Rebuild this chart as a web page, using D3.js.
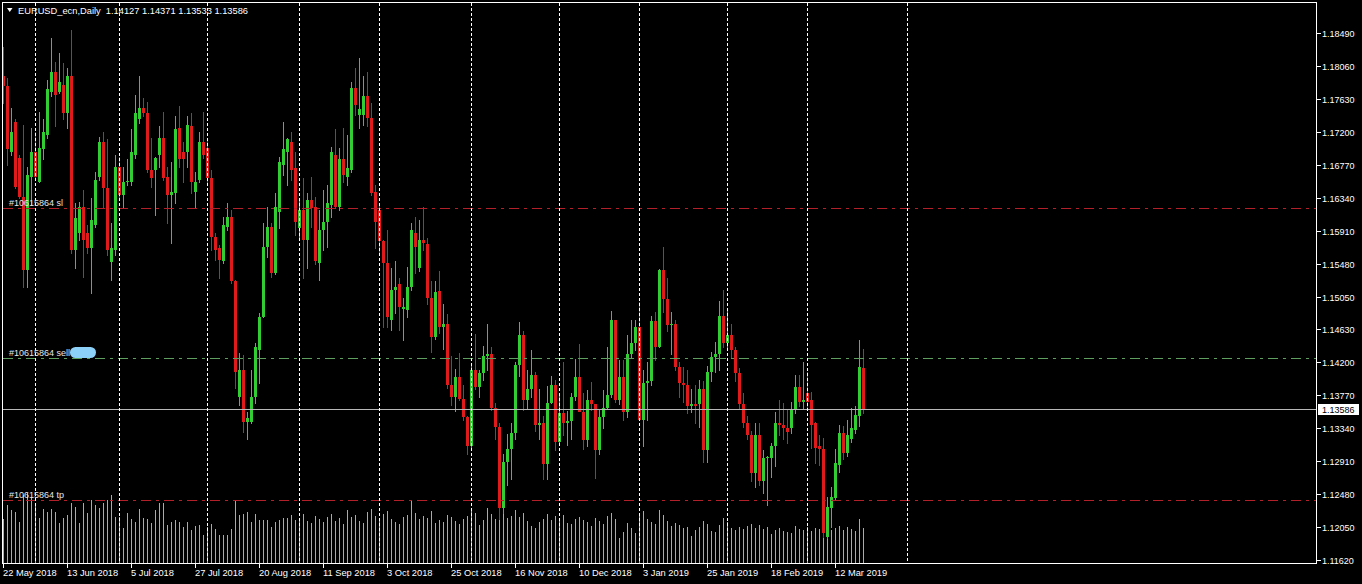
<!DOCTYPE html>
<html><head><meta charset="utf-8">
<script src="https://cdn.jsdelivr.net/npm/d3@7"></script>
<style>
html,body{margin:0;padding:0;background:#000;overflow:hidden;}
svg{display:block;}
text{font-family:"Liberation Sans", Arial, sans-serif;}
</style></head><body>
<svg id="c" width="1362" height="584"></svg>
<script>
// ---------------- DATA ----------------
const symbolTitle = "EURUSD_ecn,Daily";
const startDate = "2018-05-22";
const holidays = ["2018-12-25", "2019-01-01"];
const futureSeparators = ["2019-04-01"];

const open = [
1.1792,1.1779,1.1694,1.1733,1.1686,1.1635,1.1540,1.1661,1.1693,1.1655,
1.1697,1.1716,1.1772,1.1798,1.1772,1.1781,1.1745,1.1792,1.1566,1.1588,
1.1622,1.1588,1.1569,1.1599,1.1661,1.1706,1.1647,1.1550,1.1566,1.1674,
1.1638,1.1654,1.1655,1.1690,1.1736,1.1751,1.1745,1.1670,1.1670,1.1690,
1.1712,1.1661,1.1638,1.1640,1.1725,1.1693,1.1694,1.1727,1.1642,1.1657,
1.1706,1.1699,1.1660,1.1583,1.1569,1.1551,1.1596,1.1609,1.1525,1.1375,
1.1410,1.1342,1.1342,1.1375,1.1436,1.1479,1.1570,1.1596,1.1536,1.1616,
1.1677,1.1693,1.1707,1.1673,1.1595,1.1618,1.1579,1.1631,1.1622,1.1549,
1.1592,1.1603,1.1625,1.1690,1.1622,1.1684,1.1661,1.1670,1.1777,1.1742,
1.1742,1.1766,1.1738,1.1642,1.1618,1.1577,1.1549,1.1475,1.1514,1.1521,
1.1489,1.1488,1.1518,1.1588,1.1543,1.1579,1.1574,1.1503,1.1452,1.1513,
1.1466,1.1470,1.1390,1.1375,1.1401,1.1372,1.1348,1.1310,1.1410,1.1388,
1.1405,1.1428,1.1430,1.1360,1.1335,1.1230,1.1290,1.1306,1.1327,1.1416,
1.1455,1.1370,1.1385,1.1403,1.1338,1.1340,1.1287,1.1367,1.1390,1.1316,
1.1354,1.1340,1.1343,1.1375,1.1400,1.1355,1.1318,1.1370,1.1365,1.1305,
1.1348,1.1360,1.1377,1.1475,1.1370,1.1400,1.1355,1.1430,1.1445,1.1465,
1.1345,1.1393,1.1395,1.1473,1.1440,1.1540,1.1502,1.1468,1.1470,1.1413,
1.1392,1.1390,1.1362,1.1365,1.1365,1.1385,1.1305,1.1407,1.1427,1.1430,
1.1480,1.1445,1.1455,1.1435,1.1405,1.1365,1.1340,1.1325,1.1275,1.1325,
1.1265,1.1295,1.1295,1.1310,1.1340,1.1338,1.1334,1.1334,1.1358,1.1388,
1.1368,1.1380,1.1371,1.1341,1.1310,1.1306,1.1192,1.1230,1.1243,1.1286,
1.1328,1.1302,1.1319,1.1332,1.1349,1.14127];

const high = [
1.1831,1.1790,1.1751,1.1736,1.1690,1.1729,1.1674,1.1725,1.1719,1.1746,
1.1736,1.1788,1.1842,1.1811,1.1823,1.1810,1.1803,1.1853,1.1627,1.1629,
1.1644,1.1599,1.1634,1.1667,1.1713,1.1720,1.1710,1.1601,1.1690,1.1687,
1.1674,1.1684,1.1723,1.1768,1.1792,1.1764,1.1759,1.1712,1.1687,1.1727,
1.1746,1.1674,1.1680,1.1740,1.1753,1.1707,1.1740,1.1745,1.1667,1.1720,
1.1746,1.1710,1.1670,1.1588,1.1573,1.1609,1.1627,1.1618,1.1527,1.1432,
1.1429,1.1355,1.1410,1.1445,1.1484,1.1601,1.1622,1.1601,1.1640,1.1687,
1.1733,1.1712,1.1719,1.1693,1.1631,1.1660,1.1640,1.1661,1.1635,1.1618,
1.1644,1.1651,1.1700,1.1723,1.1699,1.1725,1.1716,1.1785,1.1803,1.1816,
1.1792,1.1798,1.1758,1.1651,1.1627,1.1579,1.1592,1.1543,1.1551,1.1530,
1.1504,1.1544,1.1601,1.1609,1.1605,1.1622,1.1582,1.1525,1.1525,1.1538,
1.1495,1.1482,1.1428,1.1411,1.1432,1.1390,1.1350,1.1417,1.1456,1.1410,
1.1441,1.1470,1.1440,1.1367,1.1340,1.1300,1.1326,1.1340,1.1420,1.1472,
1.1460,1.1410,1.1435,1.1407,1.1385,1.1350,1.1389,1.1402,1.1397,1.1380,
1.1420,1.1356,1.1380,1.1424,1.1443,1.1380,1.1384,1.1394,1.1365,1.1358,
1.1383,1.1440,1.1486,1.1475,1.1423,1.1423,1.1455,1.1475,1.1475,1.1498,
1.1410,1.1420,1.1480,1.1485,1.1541,1.1570,1.1530,1.1485,1.1475,1.1420,
1.1413,1.1410,1.1385,1.1390,1.1396,1.1395,1.1415,1.1433,1.1446,1.1500,
1.1514,1.1488,1.1470,1.1440,1.1412,1.1380,1.1350,1.1330,1.1340,1.1340,
1.1305,1.1298,1.1315,1.1355,1.1370,1.1367,1.1358,1.1368,1.1403,1.1403,
1.1420,1.1407,1.1381,1.1342,1.1325,1.1321,1.1244,1.1257,1.1306,1.1338,
1.1336,1.1345,1.1360,1.1362,1.1448,1.14371];

const low = [
1.1758,1.1677,1.1690,1.1647,1.1634,1.1518,1.1518,1.1625,1.1657,1.1654,
1.1684,1.1712,1.1766,1.1727,1.1771,1.1736,1.1725,1.1562,1.1543,1.1579,
1.1531,1.1562,1.1510,1.1596,1.1657,1.1622,1.1560,1.1527,1.1560,1.1631,
1.1621,1.1650,1.1651,1.1686,1.1732,1.1740,1.1667,1.1648,1.1612,1.1674,
1.1657,1.1601,1.1575,1.1627,1.1674,1.1654,1.1674,1.1640,1.1621,1.1655,
1.1686,1.1651,1.1566,1.1553,1.1530,1.1549,1.1592,1.1523,1.1386,1.1364,
1.1329,1.1319,1.1341,1.1367,1.1393,1.1478,1.1557,1.1531,1.1534,1.1595,
1.1664,1.1651,1.1657,1.1586,1.1579,1.1530,1.1543,1.1596,1.1547,1.1527,
1.1566,1.1570,1.1609,1.1621,1.1618,1.1654,1.1651,1.1668,1.1742,1.1725,
1.1729,1.1727,1.1638,1.1569,1.1562,1.1466,1.1465,1.1462,1.1484,1.1462,
1.1449,1.1479,1.1514,1.1536,1.1538,1.1566,1.1496,1.1433,1.1450,1.1458,
1.1437,1.1386,1.1364,1.1356,1.1370,1.1345,1.1300,1.1305,1.1385,1.1375,
1.1396,1.1410,1.1357,1.1320,1.1216,1.1223,1.1260,1.1268,1.1320,1.1402,
1.1357,1.1360,1.1375,1.1330,1.1320,1.1268,1.1268,1.1367,1.1305,1.1316,
1.1325,1.1312,1.1320,1.1370,1.1360,1.1306,1.1310,1.1358,1.1269,1.1300,
1.1334,1.1359,1.1375,1.1368,1.1365,1.1345,1.1348,1.1425,1.1435,1.1345,
1.1310,1.1345,1.1390,1.1422,1.1440,1.1485,1.1460,1.1430,1.1410,1.1375,
1.1368,1.1353,1.1355,1.1340,1.1335,1.1290,1.1290,1.1395,1.1407,1.1410,
1.1440,1.1435,1.1425,1.1395,1.1360,1.1335,1.1319,1.1265,1.1257,1.1260,
1.1249,1.1234,1.1270,1.1285,1.1325,1.1319,1.1315,1.1328,1.1354,1.1362,
1.1360,1.1358,1.1308,1.1289,1.1286,1.1192,1.1191,1.1205,1.1241,1.1277,
1.1293,1.1297,1.1316,1.1328,1.1336,1.13533];

const close = [
1.1779,1.1697,1.1720,1.1648,1.1635,1.1540,1.1664,1.1693,1.1661,1.1699,
1.1719,1.1775,1.1798,1.1768,1.1785,1.1745,1.1792,1.1566,1.1608,1.1622,
1.1579,1.1569,1.1605,1.1657,1.1706,1.1647,1.1566,1.1569,1.1674,1.1638,
1.1655,1.1656,1.1693,1.1745,1.1751,1.1745,1.1670,1.1660,1.1686,1.1712,
1.1660,1.1638,1.1642,1.1723,1.1684,1.1684,1.1729,1.1655,1.1655,1.1706,
1.1690,1.1660,1.1583,1.1566,1.1553,1.1599,1.1609,1.1525,1.1407,1.1410,
1.1342,1.1347,1.1375,1.1439,1.1479,1.1570,1.1596,1.1536,1.1622,1.1680,
1.1697,1.1710,1.1670,1.1603,1.1618,1.1579,1.1631,1.1621,1.1551,1.1592,
1.1603,1.1627,1.1693,1.1622,1.1684,1.1664,1.1673,1.1777,1.1755,1.1749,
1.1766,1.1738,1.1640,1.1603,1.1577,1.1549,1.1478,1.1514,1.1518,1.1491,
1.1492,1.1518,1.1592,1.1570,1.1579,1.1575,1.1503,1.1452,1.1511,1.1466,
1.1470,1.1390,1.1375,1.1401,1.1372,1.1348,1.1310,1.1410,1.1388,1.1405,
1.1428,1.1430,1.1360,1.1335,1.1230,1.1290,1.1306,1.1327,1.1416,1.1455,
1.1370,1.1385,1.1403,1.1338,1.1340,1.1287,1.1367,1.1390,1.1316,1.1354,
1.1340,1.1343,1.1375,1.1400,1.1355,1.1318,1.1370,1.1365,1.1305,1.1348,
1.1360,1.1377,1.1475,1.1370,1.1400,1.1355,1.1430,1.1445,1.1465,1.1345,
1.1393,1.1395,1.1473,1.1440,1.1540,1.1502,1.1468,1.1470,1.1413,1.1392,
1.1390,1.1362,1.1365,1.1362,1.1385,1.1305,1.1407,1.1427,1.1430,1.1480,
1.1445,1.1455,1.1435,1.1405,1.1365,1.1340,1.1325,1.1275,1.1325,1.1265,
1.1295,1.1296,1.1310,1.1340,1.1338,1.1334,1.1329,1.1358,1.1388,1.1368,
1.1371,1.1368,1.1338,1.1308,1.1306,1.1197,1.1231,1.1244,1.1289,1.1328,
1.1302,1.1325,1.1334,1.1351,1.1414,1.13586];

// tick volume, thousands
const volume = [
47,61,56,54,44,71,73,69,63,48, 57,54,57,54,43,48,51,63,59,43,
63,53,66,61,58,63,66,71,49,49, 38,53,47,44,57,48,47,43,56,63,
63,41,44,46,44,39,44,36,40,41, 31,39,42,37,31,31,31,37,66,51,
52,54,44,52,46,46,46,39,44,46, 48,48,51,46,46,52,45,43,50,47,
44,49,52,45,48,42,56,49,51,45, 43,54,57,50,48,52,55,47,44,42,
49,51,66,53,47,50,48,55,43,46, 44,51,49,45,42,47,50,57,53,41,
46,58,52,47,66,54,48,50,56,49, 53,45,40,38,44,47,52,46,50,45,
51,43,42,47,49,46,44,40,48,45, 42,50,53,47,28,34,43,38,33,52,
55,47,44,42,56,51,45,40,43,41, 38,39,30,36,39,45,42,35,34,41,
48,44,38,36,39,37,40,42,38,41, 37,39,32,36,38,35,34,33,40,37,
36,39,35,38,37,52,44,36,38,40, 36,39,37,35,47,38];

const priceTicks = [1.18490,1.18060,1.17630,1.17200,1.16770,1.16340,1.15910,1.15480,
  1.15050,1.14630,1.14200,1.13770,1.13340,1.12910,1.12480,1.12050,1.11620];
const dateTickLabels = ["22 May 2018","13 Jun 2018","5 Jul 2018","27 Jul 2018","20 Aug 2018",
  "11 Sep 2018","3 Oct 2018","25 Oct 2018","16 Nov 2018","10 Dec 2018","3 Jan 2019",
  "25 Jan 2019","18 Feb 2019","12 Mar 2019"];
const orderNames = ["#10615864 sl", "#10615864 sell", "#10615864 tp"];
const orderPrices = [1.16206, 1.14250, 1.12400];
const orderKinds = ["stop", "entry", "stop"];

// ---------------- BUILD ----------------
const n = close.length;
const holSet = new Set(holidays);
const fmtISO = d3.utcFormat("%Y-%m-%d");
const fmtLabel = d3.utcFormat("%-d %b %Y");
const dates = [];
{
  let d = new Date(startDate + "T00:00:00Z");
  while (dates.length < n) {
    const wd = d.getUTCDay();
    if (wd !== 0 && wd !== 6 && !holSet.has(fmtISO(d))) dates.push(new Date(d));
    d = d3.utcDay.offset(d, 1);
  }
}
const bars = d3.range(n).map(i => ({i, date: dates[i], o: open[i], h: high[i], l: low[i], c: close[i], v: volume[i]}));

const W = 1362, H = 584;
const frame = {left: 2.5, right: 1316.5, top: 2.5, bottom: 563.5};
const x = d3.scaleLinear().domain([0, 328]).range([3, 1315]);
const y = d3.scaleLinear().domain([1.11620, 1.18490]).range([560, 32.7]);
const yv = d3.scaleLinear().domain([0, 100]).range([566, 466]);

const svg = d3.select("#c");
svg.append("rect").attr("width", W).attr("height", H).attr("fill", "#000");

svg.append("clipPath").attr("id", "plotclip").append("rect")
  .attr("x", frame.left).attr("y", frame.top)
  .attr("width", frame.right - frame.left).attr("height", frame.bottom - frame.top);

const plot = svg.append("g").attr("clip-path", "url(#plotclip)");

const BULL = "#32cd32", BEAR = "#e01a1a";

// volumes
plot.append("g").attr("shape-rendering", "crispEdges").selectAll("line").data(bars).join("line")
  .attr("x1", d => x(d.i) + 0.5).attr("x2", d => x(d.i) + 0.5)
  .attr("y1", frame.bottom).attr("y2", d => Math.round(yv(d.v)))
  .attr("stroke", "#74d074").attr("stroke-width", 1);

// candles
const cg = plot.append("g").attr("shape-rendering", "crispEdges");
cg.selectAll("line").data(bars).join("line")
  .attr("x1", d => x(d.i) + 0.5).attr("x2", d => x(d.i) + 0.5)
  .attr("y1", d => Math.round(y(d.h))).attr("y2", d => Math.round(y(d.l)) + 1)
  .attr("stroke", d => d.c >= d.o ? BULL : BEAR);
cg.selectAll("rect").data(bars).join("rect")
  .attr("x", d => x(d.i) - 1).attr("width", 3)
  .attr("y", d => Math.round(y(Math.max(d.o, d.c))))
  .attr("height", d => Math.max(1, Math.round(y(Math.min(d.o, d.c))) - Math.round(y(Math.max(d.o, d.c)))))
  .attr("fill", d => d.c >= d.o ? BULL : BEAR);

// current price line
const lastClose = close[n - 1];
plot.append("line").attr("x1", frame.left).attr("x2", frame.right)
  .attr("y1", Math.round(y(lastClose)) + 0.5).attr("y2", Math.round(y(lastClose)) + 0.5)
  .attr("stroke", "#b8b8b8").attr("shape-rendering", "crispEdges");

// order lines
const orders = orderNames.map((name, k) => ({name, price: orderPrices[k], kind: orderKinds[k]}));
plot.selectAll(".ord").data(orders).join("line").attr("class", "ord")
  .attr("x1", frame.left).attr("x2", frame.right + 4)
  .attr("y1", d => Math.round(y(d.price)) + 0.5).attr("y2", d => Math.round(y(d.price)) + 0.5)
  .attr("stroke", d => d.kind === "stop" ? "#b3202a" : "#5e9e5e")
  .attr("stroke-dasharray", "10,5,3,5").attr("shape-rendering", "crispEdges");

// month separators
const sepIdx = bars.filter(d => d.i > 0 && d.date.getUTCMonth() !== dates[d.i - 1].getUTCMonth()).map(d => d.i);
futureSeparators.forEach(s => {
  const days = d3.utcDay.count(dates[n - 1], new Date(s + "T00:00:00Z"));
  sepIdx.push(n - 1 + days);
});
plot.append("g").selectAll("line").data(sepIdx).join("line")
  .attr("x1", d => x(d) + 0.5).attr("x2", d => x(d) + 0.5)
  .attr("y1", frame.top).attr("y2", frame.bottom)
  .attr("stroke", "#ffffff").attr("stroke-dasharray", "3,2").attr("shape-rendering", "crispEdges");

// order labels
plot.selectAll(".ordlbl").data(orders).join("text").attr("class", "ordlbl")
  .attr("x", 9).attr("y", d => Math.round(y(d.price)) - 2)
  .attr("fill", "#e6e6e6").attr("font-size", "9px").text(d => d.name);
// redaction blob on the entry label
const entry = orders.find(d => d.kind === "entry");
plot.append("rect").attr("x", 70).attr("y", Math.round(y(entry.price)) - 11)
  .attr("width", 26).attr("height", 11).attr("rx", 5.5)
  .attr("fill", "#8dd0f7");

// frame
svg.append("rect").attr("x", frame.left).attr("y", frame.top)
  .attr("width", frame.right - frame.left).attr("height", frame.bottom - frame.top)
  .attr("fill", "none").attr("stroke", "#ffffff").attr("shape-rendering", "crispEdges");

// price axis
const pa = svg.append("g");
pa.selectAll("line").data(priceTicks).join("line")
  .attr("x1", frame.right).attr("x2", frame.right + 4)
  .attr("y1", d => Math.round(y(d)) + 0.5).attr("y2", d => Math.round(y(d)) + 0.5)
  .attr("stroke", "#fff").attr("shape-rendering", "crispEdges");
pa.selectAll("text").data(priceTicks).join("text")
  .attr("x", 1322).attr("y", d => Math.round(y(d)) + 4)
  .attr("fill", "#fff").attr("font-size", "9px").text(d => d3.format(".5f")(d));

// current price tag
const cy = Math.round(y(lastClose));
svg.append("rect").attr("x", 1318).attr("y", cy - 5).attr("width", 41).attr("height", 11)
  .attr("fill", "#fff").attr("shape-rendering", "crispEdges");
svg.append("text").attr("x", 1322).attr("y", cy + 4).attr("fill", "#000")
  .attr("font-size", "9px").text(d3.format(".5f")(lastClose));

// date axis
const dateTicks = dateTickLabels.map(lbl => ({lbl, i: bars.findIndex(b => fmtLabel(b.date) === lbl)}));
const da = svg.append("g");
da.selectAll("line").data(dateTicks).join("line")
  .attr("x1", d => x(d.i) + 0.5).attr("x2", d => x(d.i) + 0.5)
  .attr("y1", frame.bottom).attr("y2", frame.bottom + 4)
  .attr("stroke", "#fff").attr("shape-rendering", "crispEdges");
da.selectAll("text").data(dateTicks).join("text")
  .attr("x", d => x(d.i)).attr("y", 576)
  .attr("fill", "#fff").attr("font-size", "9.3px").text(d => d.lbl);

// title
svg.append("path").attr("d", "M7,8 L12.5,8 L9.75,12 Z").attr("fill", "#fff");
const f5 = d3.format(".5f");
svg.append("text").attr("x", 18).attr("y", 14).attr("fill", "#fff").attr("font-size", "9.3px")
  .attr("xml:space", "preserve")
  .text(`${symbolTitle}  ${f5(open[n-1])} ${f5(high[n-1])} ${f5(low[n-1])} ${f5(close[n-1])}`);
</script>
</body></html>
